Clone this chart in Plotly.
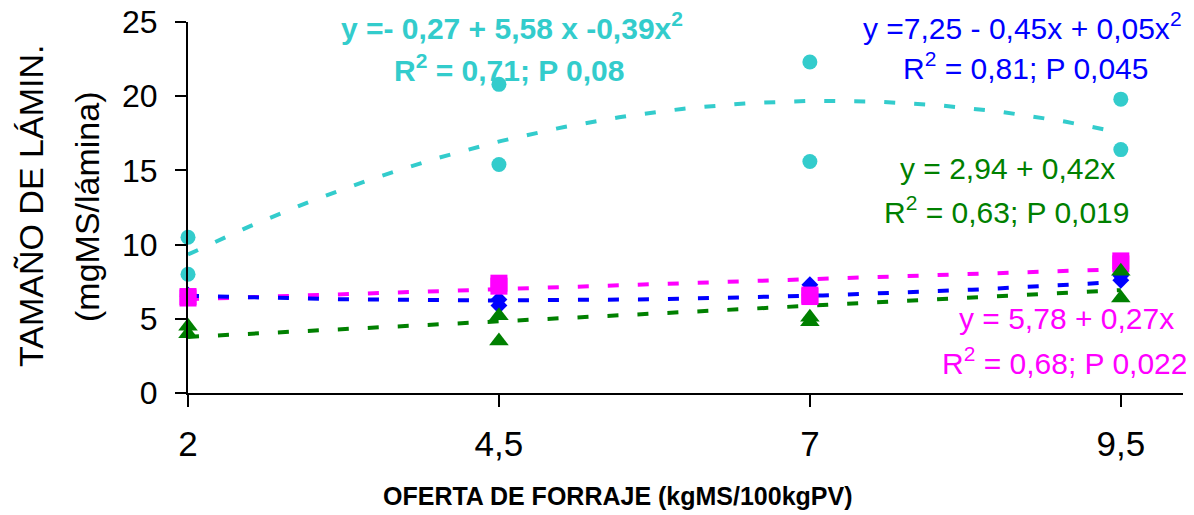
import numpy as np
import plotly.graph_objects as go

# ---- data ----
oferta = [2, 2, 4.5, 4.5, 7, 7, 9.5, 9.5]
cyan_y = [10.5, 8.0, 20.8, 15.4, 22.3, 15.6, 19.8, 16.4]
magenta_y = [6.5, 6.4, 7.4, 7.2, 6.6, 6.5, 8.9, 8.7]
blue_y = [6.6, 6.5, 6.3, 5.9, 7.3, 6.6, 7.9, 7.6]
green_y = [4.5, 4.0, 5.2, 3.5, 5.1, 4.8, 8.2, 6.4]

# trendline coefficients (c0, c1, c2) as printed on the chart
cyan_coef = [-0.27, 5.58, -0.39]
blue_coef = [7.25, -0.45, 0.05]
green_coef = [2.94, 0.42, 0.0]
magenta_coef = [5.78, 0.27, 0.0]

x_ticks = [2, 4.5, 7, 9.5]
x_tick_text = ["2", "4,5", "7", "9,5"]

CYAN = "#33CCCC"
MAGENTA = "#FF00FF"
BLUE = "#0000FF"
GREEN = "#008000"
FONT = "Liberation Sans, Arial, sans-serif"

xs = np.linspace(2, 9.5, 120)


def poly(c):
    return c[0] + c[1] * xs + c[2] * xs ** 2


fig = go.Figure()

dash = "11px,19px"
for coef, col in [(cyan_coef, CYAN), (magenta_coef, MAGENTA),
                  (blue_coef, BLUE), (green_coef, GREEN)]:
    fig.add_trace(go.Scatter(x=xs, y=poly(coef), mode="lines",
                             line=dict(color=col, width=4, dash=dash),
                             hoverinfo="skip", showlegend=False, cliponaxis=False))

fig.add_trace(go.Scatter(x=oferta, y=cyan_y, mode="markers",
                         marker=dict(symbol="circle", size=15, color=CYAN),
                         showlegend=False, cliponaxis=False))
fig.add_trace(go.Scatter(x=oferta, y=blue_y, mode="markers",
                         marker=dict(symbol="diamond", size=13, color=BLUE),
                         showlegend=False, cliponaxis=False))
fig.add_trace(go.Scatter(x=oferta, y=magenta_y, mode="markers",
                         marker=dict(symbol="square", size=17, color=MAGENTA),
                         showlegend=False, cliponaxis=False))
fig.add_trace(go.Scatter(x=oferta, y=green_y, mode="markers",
                         marker=dict(symbol="triangle-up", size=17, color=GREEN),
                         showlegend=False, cliponaxis=False))

OFF = 8  # page body margin
L, R, T, B = 188 - OFF, 11, 22 - OFF, 122
W, H = 1194 - OFF, 515 - OFF
pw, ph = W - L - R, H - T - B


def px(xp):
    return (xp - OFF - L) / pw


def py(yp):
    return (H - B - (yp - OFF)) / ph


annots = [
    ("y =- 0,27 + 5,58 x -0,39x<sup>2</sup>", 512, 26, CYAN, True),
    ("R<sup>2</sup> = 0,71; P 0,08", 509, 68, CYAN, True),
    ("y =7,25 - 0,45x + 0,05x<sup>2</sup>", 1022, 26, BLUE, False),
    ("R<sup>2</sup> = 0,81; P 0,045", 1025, 66, BLUE, False),
    ("y = 2,94 + 0,42x", 1007, 168, GREEN, False),
    ("R<sup>2</sup> = 0,63; P 0,019", 1006, 210, GREEN, False),
    ("y = 5,78 + 0,27x", 1066, 318, MAGENTA, False),
    ("R<sup>2</sup> = 0,68; P 0,022", 1064, 361, MAGENTA, False),
]
for txt, xx, yy, col, bold in annots:
    fig.add_annotation(text=("<b>%s</b>" % txt) if bold else txt,
                       x=px(xx), y=py(yy), xref="paper", yref="paper",
                       xanchor="center", yanchor="middle", showarrow=False,
                       font=dict(family=FONT, size=30, color=col))

fig.add_annotation(text="TAMAÑO DE LÁMIN.", x=px(31), y=py(206), xref="paper", yref="paper",
                   textangle=-90, showarrow=False, xanchor="center", yanchor="middle",
                   font=dict(family=FONT, size=34, color="black"))
fig.add_annotation(text="(mgMS/lámina)", x=px(87), y=py(207), xref="paper", yref="paper",
                   textangle=-90, showarrow=False, xanchor="center", yanchor="middle",
                   font=dict(family=FONT, size=34, color="black"))
fig.add_annotation(text="<b>OFERTA DE FORRAJE (kgMS/100kgPV)</b>", x=px(618), y=py(496),
                   xref="paper", yref="paper", showarrow=False,
                   xanchor="center", yanchor="middle",
                   font=dict(family=FONT, size=25, color="black"))

fig.update_layout(
    width=W, height=H,
    margin=dict(l=L, r=R, t=T, b=B, autoexpand=False),
    plot_bgcolor="white", paper_bgcolor="white",
    xaxis=dict(range=[2, 10], tickvals=x_ticks, ticktext=x_tick_text,
               showline=True, linecolor="black", linewidth=2,
               ticks="outside", ticklen=12, tickwidth=2, tickcolor="black",
               showgrid=False, zeroline=False, ticklabelstandoff=7,
               ticklabeloverflow="allow", automargin=False,
               tickfont=dict(family=FONT, size=35, color="black")),
    yaxis=dict(range=[0, 25], dtick=5, tick0=0,
               showline=True, linecolor="black", linewidth=2,
               ticks="outside", ticklen=11, tickwidth=2, tickcolor="black",
               showgrid=False, zeroline=False, ticklabelstandoff=11,
               ticklabeloverflow="allow", automargin=False,
               tickfont=dict(family=FONT, size=32, color="black")),
)

fig.write_html("out.html")
